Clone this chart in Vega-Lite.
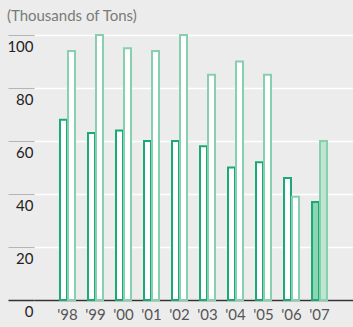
{
  "$schema": "https://vega.github.io/schema/vega-lite/v6.json",
  "width": 319,
  "height": 265,
  "autosize": {"type": "none"},
  "padding": {"left": 34, "top": 35, "right": 0, "bottom": 27},
  "background": "#ececec",
  "title": {
    "text": "(Thousands of Tons)",
    "anchor": "start",
    "offset": 10,
    "font": "Lato",
    "fontSize": 15,
    "fontWeight": "normal",
    "color": "#7a7a7a"
  },
  "config": {
    "view": {"stroke": null},
    "axis": {"labelFont": "Lato"}
  },
  "data": {
    "values": [
      {"year": "'98", "series": "A", "value": 68},
      {"year": "'98", "series": "B", "value": 94},
      {"year": "'99", "series": "A", "value": 63},
      {"year": "'99", "series": "B", "value": 100},
      {"year": "'00", "series": "A", "value": 64},
      {"year": "'00", "series": "B", "value": 95},
      {"year": "'01", "series": "A", "value": 60},
      {"year": "'01", "series": "B", "value": 94},
      {"year": "'02", "series": "A", "value": 60},
      {"year": "'02", "series": "B", "value": 100},
      {"year": "'03", "series": "A", "value": 58},
      {"year": "'03", "series": "B", "value": 85},
      {"year": "'04", "series": "A", "value": 50},
      {"year": "'04", "series": "B", "value": 90},
      {"year": "'05", "series": "A", "value": 52},
      {"year": "'05", "series": "B", "value": 85},
      {"year": "'06", "series": "A", "value": 46},
      {"year": "'06", "series": "B", "value": 39},
      {"year": "'07", "series": "A", "value": 37},
      {"year": "'07", "series": "B", "value": 60}
    ]
  },
  "mark": {"type": "bar", "strokeWidth": 2, "width": 7},
  "encoding": {
    "x": {
      "field": "year",
      "type": "nominal",
      "sort": null,
      "scale": {"paddingInner": 0.4286, "paddingOuter": 0.91},
      "axis": {
        "title": null,
        "labelAngle": 0,
        "ticks": false,
        "labelPadding": 7,
        "labelFontSize": 15,
        "labelColor": "#555555",
        "domainColor": "#333333",
        "domainWidth": 1.5
      }
    },
    "xOffset": {
      "field": "series",
      "type": "nominal",
      "scale": {"paddingInner": 0, "paddingOuter": 0}
    },
    "y": {
      "field": "value",
      "type": "quantitative",
      "scale": {"domain": [0, 100], "nice": false},
      "axis": {
        "title": null,
        "values": [0, 20, 40, 60, 80, 100],
        "grid": true,
        "gridColor": "#ffffff",
        "gridWidth": 1.5,
        "domain": false,
        "tickSize": 26,
        "tickWidth": {"condition": {"test": "datum.value === 0", "value": 1.5}, "value": 1},
        "tickColor": {"condition": {"test": "datum.value === 0", "value": "#333333"}, "value": "#b5b5b5"},
        "labelPadding": -25,
        "labelAlign": "right",
        "labelBaseline": "middle",
        "labelOffset": 11,
        "labelFontSize": 15,
        "labelColor": "#222222"
      }
    },
    "stroke": {
      "field": "series",
      "type": "nominal",
      "scale": {"domain": ["A", "B"], "range": ["#1aaa76", "#86d0b0"]},
      "legend": null
    },
    "fill": {
      "condition": {"test": "datum.year !== \"'07\"", "value": "#ffffff"},
      "field": "series",
      "type": "nominal",
      "scale": {"domain": ["A", "B"], "range": ["#8ed5b3", "#bfe5d1"]},
      "legend": null
    },
    "fillOpacity": {"value": 1}
  }
}
